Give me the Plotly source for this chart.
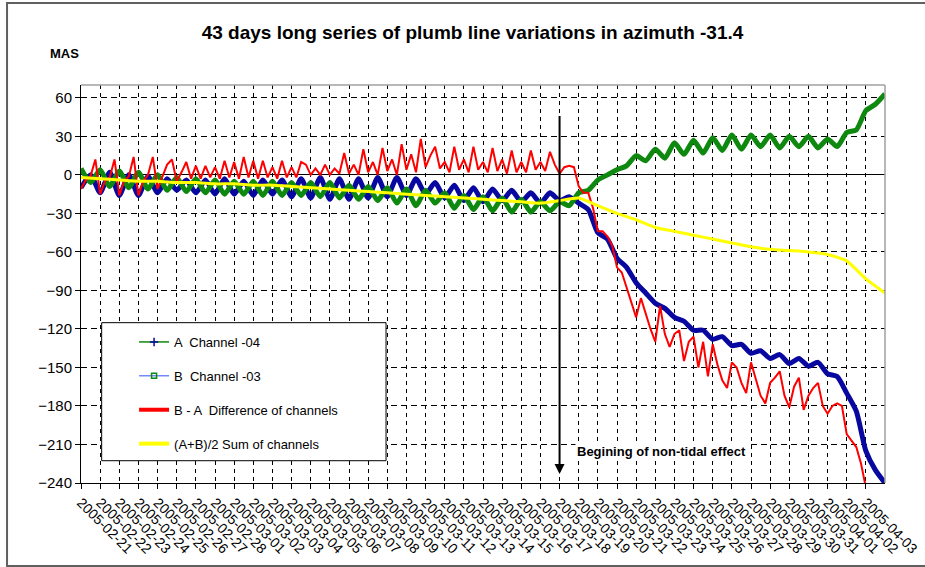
import pandas as pd
import plotly.graph_objects as go

BASE_DATE = "2005-02-21"
TICK_LABELS = [d.strftime("%Y-%m-%d") for d in pd.date_range("2005-02-21", "2005-04-03", freq="D")]
X_END = "2005-04-04"
Y_TICKS = [60, 30, 0, -30, -60, -90, -120, -150, -180, -210, -240]

# A Channel -04 (blue), values every 12 h from 2005-02-21 00:00
A_STEP_DAYS = 0.5
A_VALUES = [
    -10, 0, -14, 2, -16, 0, -16, -1, -14, -3,
    -12, -4, -14, -4, -15, -3, -15, -5, -16, -4,
    -15, -4, -17, -3, -18, -2, -19, -3, -19, -3,
    -18, -2, -17, -2, -16, -3, -15, -6, -18, -8,
    -20, -10, -21, -11, -20, -12, -21, -14, -22, -14,
    -20, -17, -22, -27, -45, -50, -65, -72, -84, -92,
    -100, -104, -111, -114, -121, -121, -128, -126, -133, -132,
    -139, -137, -143, -140, -147, -143, -149, -146, -155, -157,
    -170, -184, -215, -230, -240,
]

# B Channel -03 (green), values every 12 h
B_STEP_DAYS = 0.5
B_VALUES = [
    5, -6, 4, -9, 3, -10, 2, -11, 0, -12,
    -2, -13, -3, -14, -4, -15, -5, -15, -5, -16,
    -5, -16, -6, -16, -6, -17, -6, -18, -8, -19,
    -9, -20, -10, -22, -11, -24, -12, -22, -14, -26,
    -16, -27, -17, -28, -18, -29, -19, -29, -21, -28,
    -21, -24, -14, -12, -4, 0, 4, 7, 15, 11,
    20, 13, 25, 16, 27, 17, 29, 19, 31, 20,
    31, 22, 31, 21, 30, 22, 30, 21, 28, 22,
    33, 35, 50, 55, 63,
]

# B - A Difference of channels (red), values every 6 h
D_STEP_DAYS = 0.25
D_VALUES = [
    -11, -4, -1, 12, -15, -5, -2, 12, -16, -5,
    -1, 14, -16, -5, 0, 14, -11, -2, 8, 12,
    -5, 2, 10, -3, 7, -3, 7, -2, 6, -3,
    11, -2, 10, -3, 14, -2, 11, -3, 11, -2,
    6, -3, 11, -2, 6, -2, 10, 8, 0, 5,
    0, 8, 0, 5, 1, 17, 1, 8, 0, 20,
    2, 10, 0, 21, 3, 12, 0, 24, 4, 16,
    2, 28, 6, 15, 22, 5, 10, 2, 22, 4,
    12, 2, 22, 4, 10, 2, 21, 3, 12, 1,
    19, 2, 10, 2, 19, 4, 10, 3, 18, 8,
    1, 6, 7, 6, -9, -14, -14, -26, -44, -44,
    -48, -55, -72, -76, -88, -100, -111, -96, -108, -120,
    -130, -102, -124, -134, -124, -121, -145, -130, -126, -150,
    -130, -157, -132, -148, -160, -166, -146, -150, -162, -170,
    -146, -160, -172, -178, -162, -158, -153, -172, -181, -165,
    -158, -183, -172, -166, -162, -180, -186, -180, -178, -180,
    -202, -207, -212, -225, -244, -262,
]

# (A+B)/2 Sum of channels (yellow), daily values
S_STEP_DAYS = 1.0
S_VALUES = [
    -2, -3, -4, -5, -5, -6, -6, -7, -7, -8,
    -8, -9, -10, -11, -12, -13, -14, -15, -16, -17,
    -18, -19, -20, -21, -22, -20, -18, -24, -30, -35,
    -41, -44, -47, -50, -53, -56, -58, -59, -60, -62,
    -67, -81, -92,
]

EVENT_DATE = "2005-03-18"
EVENT_TEXT = "Begining of non-tidal effect"
EVENT_Y_TOP = 47
EVENT_Y_TIP = -233

TITLE = "43 days long series of plumb line variations in azimuth -31.4"
Y_LABEL = "MAS"
NAMES = ["A  Channel -04", "B  Channel -03", "B - A  Difference of channels", "(A+B)/2 Sum of channels"]


def times(step, n):
    return pd.Timestamp(BASE_DATE) + pd.to_timedelta([i * step for i in range(n)], unit="D")


FONT = "Liberation Sans, Arial, sans-serif"
BLUE = "#0808A0"
GREEN = "#0E880E"
RED = "#FF0000"
YELLOW = "#FFFF00"

fig = go.Figure()
fig.add_trace(go.Scatter(x=times(A_STEP_DAYS, len(A_VALUES)), y=A_VALUES, mode="lines",
                         line=dict(color=BLUE, width=5, shape="spline", smoothing=0.6), showlegend=False))
fig.add_trace(go.Scatter(x=times(B_STEP_DAYS, len(B_VALUES)), y=B_VALUES, mode="lines",
                         line=dict(color=GREEN, width=5, shape="spline", smoothing=0.6), showlegend=False))
fig.add_trace(go.Scatter(x=times(D_STEP_DAYS, len(D_VALUES)), y=D_VALUES, mode="lines",
                         line=dict(color=RED, width=2), showlegend=False))
fig.add_trace(go.Scatter(x=times(S_STEP_DAYS, len(S_VALUES)), y=S_VALUES, mode="lines",
                         line=dict(color=YELLOW, width=3, shape="spline", smoothing=0.5), showlegend=False))

# legend entries
fig.add_trace(go.Scatter(x=[None], y=[None], mode="lines+markers", name=NAMES[0], legendgroup="a",
                         line=dict(color=GREEN, width=1.5),
                         marker=dict(symbol="cross-thin", size=6, color=BLUE, line=dict(color=BLUE, width=1.5))))
fig.add_trace(go.Scatter(x=[None], y=[None], mode="lines+markers", name=NAMES[1], legendgroup="b",
                         line=dict(color="#3050FF", width=1),
                         marker=dict(symbol="square-open", size=5, color=GREEN, line=dict(color=GREEN, width=1.5))))
fig.add_trace(go.Scatter(x=[None], y=[None], mode="lines", name=NAMES[2], legendgroup="c",
                         line=dict(color=RED, width=4)))
fig.add_trace(go.Scatter(x=[None], y=[None], mode="lines", name=NAMES[3], legendgroup="d",
                         line=dict(color=YELLOW, width=4)))

tick_dates = [pd.Timestamp(t) for t in TICK_LABELS]

fig.update_layout(
    width=925, height=567,
    margin=dict(l=81, r=40, t=85, b=84),
    paper_bgcolor="white", plot_bgcolor="white",
    font=dict(family=FONT, size=14, color="black"),
    title=dict(text=f"<b>{TITLE}</b>", x=472.5 / 925, xanchor="center", y=1 - 32 / 567,
               yanchor="middle", xref="container", yref="container",
               font=dict(family=FONT, size=19, color="black")),
    xaxis=dict(type="date", range=[BASE_DATE, X_END], tickmode="array", tickvals=tick_dates,
               ticktext=TICK_LABELS, tickangle=45, tickfont=dict(size=14), automargin=False,
               showgrid=True, gridcolor="black", gridwidth=1, griddash="4px,4px",
               showline=True, linecolor="black", linewidth=1, ticks="outside", ticklen=5,
               tickcolor="black", zeroline=False),
    yaxis=dict(range=[-240, 70], tickmode="array", tickvals=Y_TICKS, tickfont=dict(size=15),
               automargin=False,
               showgrid=True, gridcolor="black", gridwidth=1, griddash="6px,4px",
               showline=True, linecolor="black", linewidth=1, ticks="outside", ticklen=5,
               tickcolor="black", zeroline=True, zerolinecolor="black", zerolinewidth=1),
    legend=dict(x=0.066, y=0.392, xanchor="left", yanchor="top", bgcolor="rgba(0,0,0,0)",
                borderwidth=0, traceorder="grouped", tracegroupgap=14,
                font=dict(family=FONT, size=13, color="black")),
    showlegend=True,
)

fig.update_layout(shapes=[
    # legend box
    dict(type="rect", xref="paper", yref="paper", x0=0.0257, x1=0.3794, y0=0.056, y1=0.4028,
         fillcolor="white", line=dict(color="black", width=1), layer="above"),
    # plot area top/right border
    dict(type="line", xref="paper", yref="paper", x0=0, x1=1, y0=1, y1=1,
         line=dict(color="#A0A0A0", width=1.5)),
    dict(type="line", xref="paper", yref="paper", x0=1, x1=1, y0=0, y1=1,
         line=dict(color="#A0A0A0", width=1.5)),
    # outer chart frame
    dict(type="rect", xref="paper", yref="paper", x0=-0.092, x1=1.2, y0=-0.2085, y1=1.206,
         line=dict(color="#606060", width=2)),
])

fig.add_annotation(x=EVENT_DATE, y=EVENT_Y_TIP, ax=EVENT_DATE, ay=EVENT_Y_TOP, xref="x", yref="y",
                   axref="x", ayref="y", text="", showarrow=True, arrowhead=2, arrowsize=1,
                   arrowwidth=2, arrowcolor="black", standoff=0)
fig.add_annotation(x=0.614, y=0.080, xref="paper", yref="paper", text=f"<b>{EVENT_TEXT}</b>",
                   showarrow=False, xanchor="left", yanchor="middle", bgcolor="white",
                   font=dict(family=FONT, size=13, color="black"))
fig.add_annotation(x=-0.0205, y=1.078, xref="paper", yref="paper", text=f"<b>{Y_LABEL}</b>",
                   showarrow=False, xanchor="center", yanchor="middle",
                   font=dict(family=FONT, size=13, color="black"))

fig.write_html("out.html")
